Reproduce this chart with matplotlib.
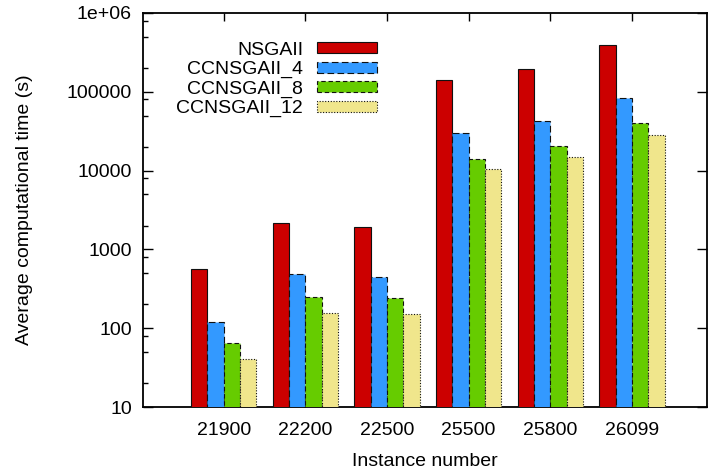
import numpy as np
import matplotlib.pyplot as plt
from matplotlib.ticker import FixedLocator, FixedFormatter, LogLocator, NullFormatter

plt.rcParams['font.family'] = ['Liberation Sans', 'DejaVu Sans']

instances = ['21900', '22200', '22500', '25500', '25800', '26099']
series = ['NSGAII', 'CCNSGAII_4', 'CCNSGAII_8', 'CCNSGAII_12']
nsgaii = [570, 2160, 1900, 141000, 194000, 393000]
cc4 = [121, 483, 447, 30000, 43000, 84000]
cc8 = [64, 247, 242, 13900, 20700, 40500]
cc12 = [41, 157, 153, 10500, 14800, 28600]
yticks = [10, 100, 1000, 10000, 100000, 1000000]
ytick_labels = ['10', '100', '1000', '10000', '100000', '1e+06']

colors = ['#cc0000', '#3399ff', '#66cc00', '#f0e68c']
styles = ['-', (0, (6, 3)), (0, (4, 2.5)), (0, (1, 1.5))]

fig = plt.figure(figsize=(7.09, 4.72), dpi=100)
ax = fig.add_axes([143 / 709, 1 - 407 / 472, 564 / 709, 394 / 472])

x = np.arange(len(instances))
w = 0.2
for k, vals in enumerate([nsgaii, cc4, cc8, cc12]):
    ax.bar(x + (k - 1.5) * w, vals, width=w, color=colors[k], edgecolor='#111111',
           linewidth=0.8, linestyle=styles[k], label=series[k], zorder=3)

ax.set_yscale('log')
ax.set_ylim(10, 1e6)
ax.set_xlim(-0.99, 5.92)
ax.yaxis.set_major_locator(FixedLocator(yticks))
ax.yaxis.set_major_formatter(FixedFormatter(ytick_labels))
ax.yaxis.set_minor_locator(LogLocator(base=10, subs=(2, 5, 8)))
ax.yaxis.set_minor_formatter(NullFormatter())
ax.set_xticks(x)
ax.set_xticklabels(instances)

ax.tick_params(axis='both', which='major', direction='in', length=7, width=1,
               labelsize=14, top=True, right=True, pad=8)
ax.tick_params(axis='y', which='minor', direction='in', length=3.5, width=1, right=False)
ax.tick_params(axis='x', which='major', length=6, pad=11)
for s in ax.spines.values():
    s.set_linewidth(1.3)

ax.set_xlabel('Instance number', fontsize=14, labelpad=10)
ax.set_ylabel('Average computational time (s)', fontsize=14, labelpad=24)

ax.legend(loc='upper right', bbox_to_anchor=(0.415, 0.927), frameon=False,
          markerfirst=False, fontsize=14, handlelength=3.1, handleheight=0.5,
          handletextpad=0.7, labelspacing=0.12, borderpad=0, borderaxespad=0)

fig.savefig('out.png', dpi=100)
